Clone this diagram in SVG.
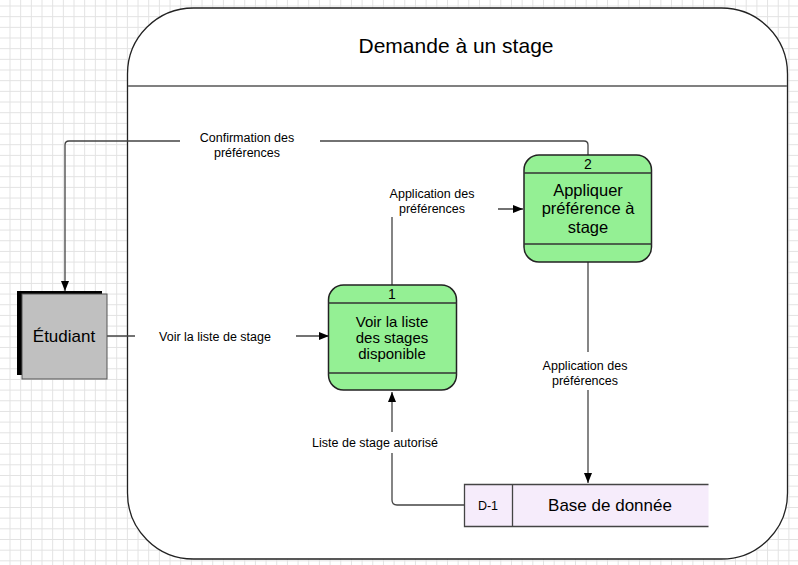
<svg xmlns="http://www.w3.org/2000/svg" width="798" height="565" viewBox="0 0 798 565">
<defs>
<pattern id="grid" patternUnits="userSpaceOnUse" x="9.5" y="5.5" width="10.67" height="10.67">
<path d="M0.5,0 V10.67 M0,0.5 H10.67" stroke="#e2e2e2" stroke-width="1" fill="none"/>
</pattern>
<marker id="arr" markerUnits="userSpaceOnUse" markerWidth="11" markerHeight="9" refX="10" refY="4" orient="auto">
<path d="M0,0 L10,4 L0,8 z" fill="#000"/>
</marker>
<style>
text{font-family:"Liberation Sans",Arial,sans-serif;fill:#000}
.lbl{font-size:12.5px;text-anchor:middle}
.proc{fill:#94f094;stroke:#222;stroke-width:1.5}
.sep{stroke:#333;stroke-width:1.5}
.conn{fill:none;stroke:#444;stroke-width:1.3}
.bg{fill:#fff}
.big{text-anchor:middle}
</style>
</defs>
<rect width="798" height="565" fill="#fff"/>
<rect width="798" height="565" fill="url(#grid)"/>

<g id="container">
<rect x="127.5" y="8" width="660" height="551" rx="66" ry="66" fill="#fff" stroke="#222" stroke-width="1.3"/>
<line x1="128" y1="86" x2="787" y2="86" stroke="#808080" stroke-width="2"/>
<text x="456" y="53" class="big" font-size="21">Demande à un stage</text>
</g>

<g id="connectors">
<path class="conn" d="M588,157 V145 Q588,141 584,141 H69 Q65,141 65,145 V291" marker-end="url(#arr)"/>
<path class="conn" d="M107,336 H329" marker-end="url(#arr)"/>
<path class="conn" d="M392,285 V209 H523" marker-end="url(#arr)"/>
<path class="conn" d="M588,262 V483" marker-end="url(#arr)"/>
<path class="conn" d="M464,505 H397 Q392,505 392,500 V392" marker-end="url(#arr)"/>
<rect class="bg" x="180" y="128" width="140" height="34"/>
<rect class="bg" x="135" y="326" width="161" height="21"/>
<rect class="bg" x="380" y="184" width="118" height="33"/>
<rect class="bg" x="530" y="352" width="116" height="38"/>
<rect class="bg" x="305" y="432" width="140" height="21"/>
<text class="lbl" x="247" y="142">Confirmation des</text>
<text class="lbl" x="247" y="157">préférences</text>
<text class="lbl" x="215" y="341">Voir la liste de stage</text>
<text class="lbl" x="432" y="198">Application des</text>
<text class="lbl" x="432" y="213">préférences</text>
<text class="lbl" x="585" y="370">Application des</text>
<text class="lbl" x="585" y="385">préférences</text>
<text class="lbl" x="375" y="447">Liste de stage autorisé</text>
</g>

<g id="etudiant">
<rect x="17" y="291" width="85" height="84" fill="#000"/>
<rect x="22" y="294" width="85" height="85" fill="#c0c0c0" stroke="#555" stroke-width="1"/>
<text x="64" y="342" class="big" font-size="17">Étudiant</text>
</g>

<g id="process1">
<rect class="proc" x="328.5" y="285" width="128" height="105" rx="15" ry="15"/>
<line class="sep" x1="328.5" y1="303" x2="456.5" y2="303"/>
<line class="sep" x1="328.5" y1="373" x2="456.5" y2="373"/>
<text x="392" y="299" class="big" font-size="14">1</text>
<text x="392" y="327" class="big" font-size="15">Voir la liste</text>
<text x="392" y="343" class="big" font-size="15">des stages</text>
<text x="392" y="359" class="big" font-size="15">disponible</text>
</g>

<g id="process2">
<rect class="proc" x="524" y="155" width="127.5" height="107" rx="15" ry="15"/>
<line class="sep" x1="524" y1="173" x2="651.5" y2="173"/>
<line class="sep" x1="524" y1="244" x2="651.5" y2="244"/>
<text x="588" y="169" class="big" font-size="14">2</text>
<text x="588" y="195.5" class="big" font-size="16.5">Appliquer</text>
<text x="588" y="214" class="big" font-size="16.5">préférence à</text>
<text x="588" y="232.5" class="big" font-size="16.5">stage</text>
</g>

<g id="store">
<rect x="464.5" y="484.5" width="244" height="42" fill="#f6ecfb"/>
<path d="M708.5,484.5 H464.5 V526.5 H708.5" fill="none" stroke="#444" stroke-width="1.3"/>
<line x1="512.5" y1="484.5" x2="512.5" y2="526.5" stroke="#444" stroke-width="1.3"/>
<text x="488" y="510" class="big" font-size="12.5">D-1</text>
<text x="610" y="511" class="big" font-size="17">Base de donnée</text>
</g>
</svg>
